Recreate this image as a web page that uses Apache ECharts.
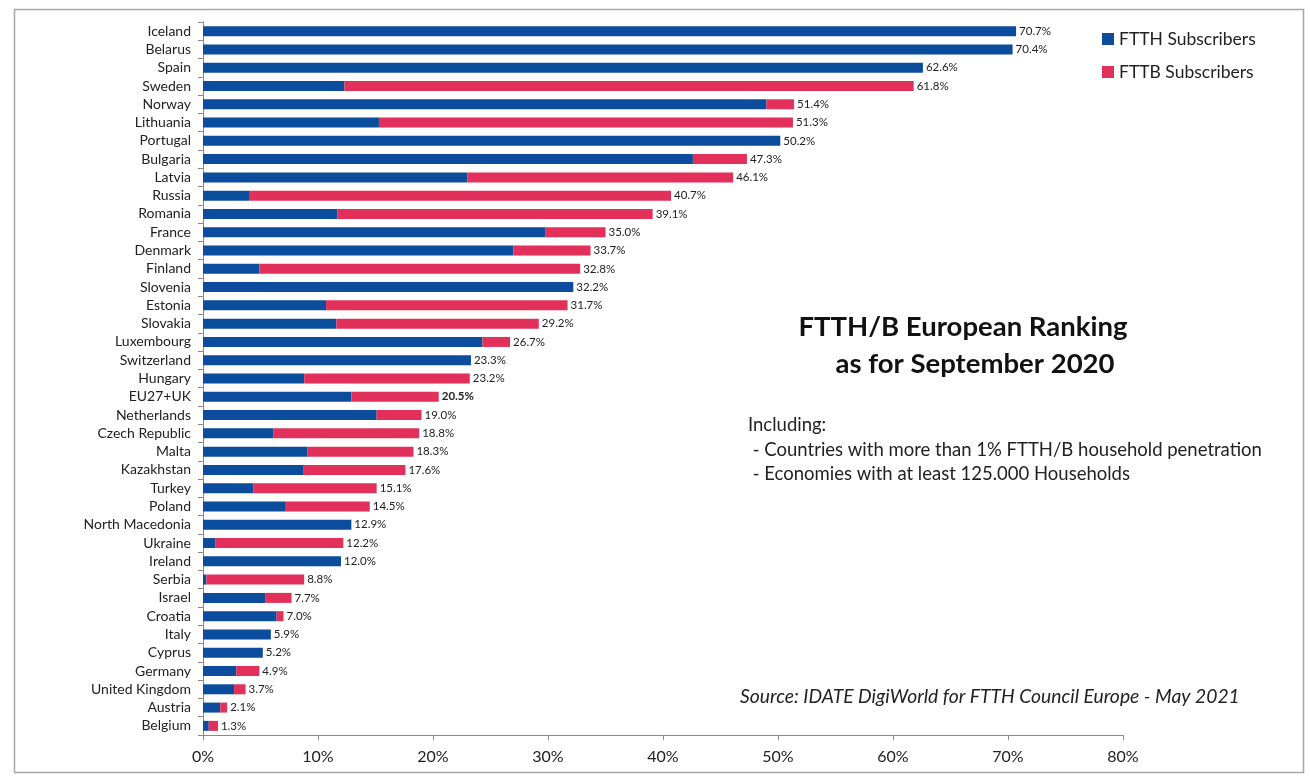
<!DOCTYPE html>
<html>
<head>
<meta charset="utf-8">
<script src="https://cdn.jsdelivr.net/npm/echarts@6/dist/echarts.min.js"></script>
<style>html,body{margin:0;padding:0;background:#fff;}#chart{width:1310px;height:780px;}</style>
</head>
<body>
<div id="chart"></div>
<script>
const categories = ["Iceland","Belarus","Spain","Sweden","Norway","Lithuania","Portugal","Bulgaria","Latvia","Russia","Romania","France","Denmark","Finland","Slovenia","Estonia","Slovakia","Luxembourg","Switzerland","Hungary","EU27+UK","Netherlands","Czech Republic","Malta","Kazakhstan","Turkey","Poland","North Macedonia","Ukraine","Ireland","Serbia","Israel","Croatia","Italy","Cyprus","Germany","United Kingdom","Austria","Belgium"];
const totals = [70.7,70.4,62.6,61.8,51.4,51.3,50.2,47.3,46.1,40.7,39.1,35.0,33.7,32.8,32.2,31.7,29.2,26.7,23.3,23.2,20.5,19.0,18.8,18.3,17.6,15.1,14.5,12.9,12.2,12.0,8.8,7.7,7.0,5.9,5.2,4.9,3.7,2.1,1.3];
const ftth = [70.7,70.4,62.6,12.3,49.0,15.3,50.2,42.6,23.0,4.0,11.7,29.8,27.0,4.9,32.2,10.7,11.6,24.3,23.3,8.8,12.9,15.1,6.1,9.1,8.7,4.4,7.2,12.9,1.1,12.0,0.3,5.4,6.4,5.9,5.2,2.9,2.7,1.5,0.5];
const fttb = [0,0,0,49.5,2.4,36.0,0,4.7,23.1,36.7,27.4,5.2,6.7,27.9,0,21.0,17.6,2.4,0,14.4,7.6,3.9,12.7,9.2,8.9,10.7,7.3,0,11.1,0,8.5,2.3,0.6,0,0,2.0,1.0,0.6,0.8];
const xTicks = [0,10,20,30,40,50,60,70,80];
const highlight = "EU27+UK";

const FONT = "Lato, 'Open Sans', sans-serif";
const chart = echarts.init(document.getElementById('chart'));
chart.setOption({
  backgroundColor: '#fff',
  animation: false,
  textStyle: { fontFamily: FONT },
  grid: { left: 203, right: 187, top: 22, bottom: 45, containLabel: false },
  legend: {
    orient: 'vertical', left: 1097, top: 25, itemWidth: 12, itemHeight: 12, itemGap: 15,
    icon: 'rect',
    textStyle: { fontSize: 17.5, color: '#222', fontFamily: FONT },
    data: ['FTTH Subscribers', 'FTTB Subscribers']
  },
  xAxis: {
    type: 'value', min: xTicks[0], max: xTicks[xTicks.length - 1], interval: 10,
    axisLine: { show: true, lineStyle: { color: '#8a8a8a' } },
    axisTick: { show: true, length: 5, lineStyle: { color: '#8a8a8a' } },
    splitLine: { show: false },
    axisLabel: { formatter: v => v + '%', fontSize: 16, color: '#222', margin: 14, fontFamily: FONT }
  },
  yAxis: {
    type: 'category', data: categories, inverse: true,
    axisLine: { show: true, lineStyle: { color: '#8a8a8a' } },
    axisTick: { show: true, length: 5, lineStyle: { color: '#8a8a8a' } },
    axisLabel: { fontSize: 14, color: '#222', margin: 12, fontFamily: FONT }
  },
  series: [
    {
      name: 'FTTH Subscribers', type: 'bar', stack: 'total', data: ftth,
      barWidth: 10, itemStyle: { color: '#0c4c9c' }
    },
    {
      name: 'FTTB Subscribers', type: 'bar', stack: 'total', data: fttb,
      barWidth: 10, itemStyle: { color: '#e3305a' },
      label: {
        show: true, position: 'right', distance: 3, fontSize: 11.5, color: '#222', fontFamily: FONT,
        formatter: p => {
          const t = totals[p.dataIndex].toFixed(1) + '%';
          return categories[p.dataIndex] === highlight ? '{b|' + t + '}' : t;
        },
        rich: { b: { fontWeight: 'bold', fontSize: 11.5, color: '#222', fontFamily: FONT } }
      }
    }
  ],
  graphic: [
    { type: 'rect', left: 12, top: 7, shape: { width: 1289, height: 763 }, style: { fill: 'none', stroke: '#a6a6a6', lineWidth: 1.5 }, silent: true, z: -1 },
    { type: 'text', x: 963, y: 327, style: { text: 'FTTH/B European Ranking', fontSize: 27.5, fontWeight: 'bold', fontFamily: FONT, fill: '#111', align: 'center', verticalAlign: 'middle' } },
    { type: 'text', x: 975, y: 364, style: { text: 'as for September 2020', fontSize: 27.5, fontWeight: 'bold', fontFamily: FONT, fill: '#111', align: 'center', verticalAlign: 'middle' } },
    { type: 'text', x: 748, y: 413, style: { text: 'Including:\n - Countries with more than 1% FTTH/B household penetration\n - Economies with at least 125.000 Households', fill: '#222', lineHeight: 24.5, fontSize: 18.5, fontFamily: FONT } },
    { type: 'text', x: 740, y: 697, style: { text: 'Source: IDATE DigiWorld for FTTH Council Europe - May 2021', fill: '#222', fontSize: 19.3, fontStyle: 'italic', fontFamily: FONT, verticalAlign: 'middle' } }
  ]
});
</script>
</body>
</html>
